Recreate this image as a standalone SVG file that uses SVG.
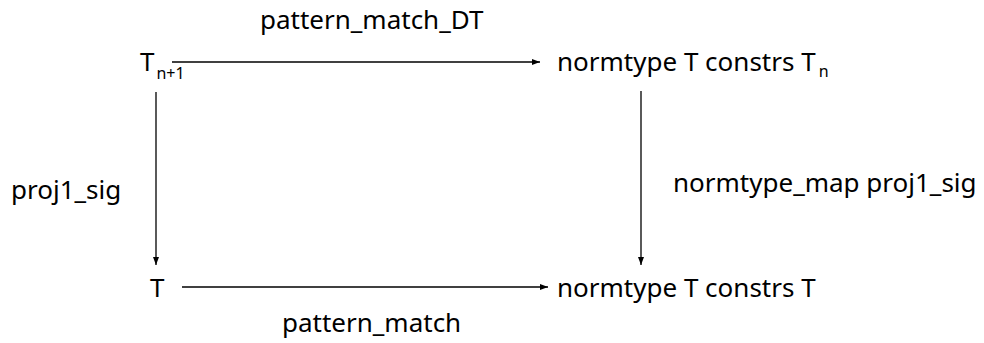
<svg xmlns="http://www.w3.org/2000/svg" width="984" height="343" viewBox="0 0 984 343">
  <style>
    text { font-family: "Noto Sans", "Open Sans", "Noto Sans CJK SC", sans-serif; font-size: 26px; fill: #000; }
    .sub { font-size: 16px; }
    .edge { stroke: #000; stroke-width: 1.3; fill: none; marker-end: url(#head); }
  </style>
  <defs>
    <marker id="head" viewBox="0 0 8 6" refX="8" refY="3" markerWidth="8" markerHeight="6" markerUnits="userSpaceOnUse" orient="auto">
      <path d="M0,0 L8,3 L0,6 Z" fill="#000"/>
    </marker>
  </defs>
  <rect width="984" height="343" fill="#fff"/>

  <g id="connectors">
    <line class="edge" x1="172" y1="62" x2="540" y2="62"/>
    <line class="edge" x1="156" y1="92" x2="156" y2="265"/>
    <line class="edge" x1="641" y1="91" x2="641" y2="265"/>
    <line class="edge" x1="182" y1="287" x2="548" y2="287"/>
    <text x="260" y="29">pattern_match_DT</text>
    <text x="11" y="199">proj1_sig</text>
    <text x="673" y="192">normtype_map proj1_sig</text>
    <text x="282" y="332">pattern_match</text>
  </g>

  <g id="node-tn1">
    <text x="140" y="71">T<tspan class="sub" dx="2" dy="8">n+1</tspan></text>
  </g>
  <g id="node-normtype-tn">
    <text x="557" y="71">normtype T constrs T<tspan class="sub" dx="3" dy="6">n</tspan></text>
  </g>
  <g id="node-t">
    <text x="150" y="297">T</text>
  </g>
  <g id="node-normtype-t">
    <text x="557" y="297">normtype T constrs T</text>
  </g>
</svg>
